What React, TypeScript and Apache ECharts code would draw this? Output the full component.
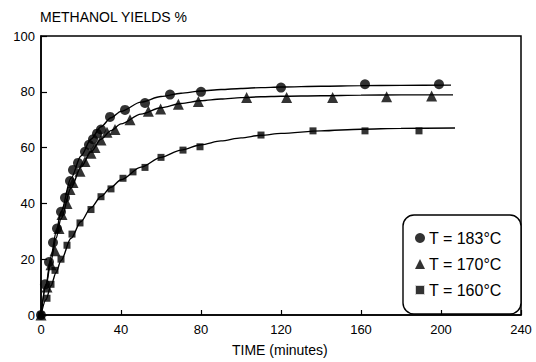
import React, { useEffect, useRef } from "react";
import * as echarts from "echarts";

const FONT = "'Liberation Sans', Arial, Helvetica, sans-serif";

const seriesNames = ["T = 183°C", "T = 170°C", "T = 160°C"];
const xTicks = [0, 40, 80, 120, 160, 200, 240];
const yTicks = [0, 20, 40, 60, 80, 100];

// measured points [time (min), yield %]
const pts183: number[][] = [
  [0, 0], [2, 11], [4, 19], [6, 26], [8, 31], [10, 37], [12, 42], [14.5, 48], [16, 52],
  [18.5, 54.5], [22, 58.5], [24, 61], [26, 63], [28, 65], [30, 66.5], [34.5, 71],
  [42, 73.5], [52, 76], [64.5, 79], [80, 80], [120, 81.5], [162, 82.7], [199, 82.7],
];
const pts170: number[][] = [
  [0, 0], [3, 10], [5, 18], [7, 23], [9, 31], [10.5, 36], [13, 40], [14.5, 45], [16, 47.5],
  [19.5, 51.5], [22, 55], [25, 58], [27, 60], [30, 62.7], [33, 65.5], [37, 66.5],
  [44.5, 70], [53.7, 73], [59.8, 73.8], [68.7, 75.5], [78.7, 76.5], [102.8, 78],
  [122.8, 78], [145.8, 78], [172.8, 78.2], [195.3, 78.5],
];
const pts160: number[][] = [
  [0, 0], [3, 6], [5, 11], [7, 16], [10, 20], [13, 25], [15.5, 29], [19.5, 33], [25, 37.8],
  [30, 42.4], [35, 45.2], [41, 49], [46, 51.3], [52, 52.9], [60, 56.5], [71, 59.1],
  [79.5, 60.3], [110, 64.5], [136, 66], [162, 66], [189, 66],
];

// fitted curves
const fit183: number[][] = [
  [0, 0], [2.5, 11], [5, 21], [7.5, 29.5], [10, 37], [15, 49], [20, 57], [25, 63],
  [30, 67.5], [35, 70.7], [40, 73], [50, 76.3], [60, 78.3], [70, 79.5], [80, 80.3],
  [90, 80.8], [100, 81.2], [110, 81.5], [120, 81.7], [140, 82], [160, 82.2], [180, 82.3], [205, 82.4],
];
const fit170: number[][] = [
  [0, 0], [2.5, 10.5], [5, 19.5], [7.5, 27.5], [10, 34.5], [15, 45.5], [20, 53], [25, 58.5],
  [30, 63], [35, 66.1], [40, 68.5], [50, 72], [60, 74.3], [70, 75.8], [80, 76.8],
  [90, 77.4], [100, 77.9], [110, 78.2], [120, 78.4], [140, 78.6], [160, 78.8], [180, 78.9], [206, 78.9],
];
const fit160: number[][] = [
  [0, 0], [2.5, 5.5], [5, 10.5], [7.5, 15.2], [10, 19.5], [15, 27.5], [20, 33.5], [25, 38.5],
  [30, 42.5], [35, 45.8], [40, 48.5], [50, 53], [60, 56.5], [70, 59.1], [80, 61],
  [90, 62.4], [100, 63.5], [110, 64.4], [120, 65.1], [140, 66], [160, 66.6], [180, 66.9], [207, 67],
];

const symbols = ["circle", "triangle", "rect"];
const symbolSizes = [10, 11, 7];

export default function App() {
  const ref = useRef<HTMLDivElement>(null);
  useEffect(() => {
    if (!ref.current) return;
    const chart = echarts.init(ref.current, null, { renderer: "svg" });
    const pts = [pts183, pts170, pts160];
    const fits = [fit183, fit170, fit160];
    const series: any[] = [];
    fits.forEach((f, i) => {
      series.push({
        name: "fit " + seriesNames[i],
        type: "line",
        data: f,
        smooth: 0.3,
        smoothMonotone: "x",
        showSymbol: false,
        symbol: "none",
        lineStyle: { color: "#000", width: 1.4 },
        silent: true,
        z: 2,
      });
    });
    pts.forEach((p, i) => {
      series.push({
        name: seriesNames[i],
        type: "scatter",
        data: p,
        symbol: symbols[i],
        symbolSize: symbolSizes[i],
        itemStyle: { color: "#000" },
        z: 3,
      });
    });
    chart.setOption({
      animation: false,
      textStyle: { fontFamily: FONT, color: "#000" },
      grid: {
        left: 41, right: 15, top: 36, bottom: 47,
        show: true, borderColor: "#000", borderWidth: 1.5,
      },
      xAxis: {
        type: "value",
        min: xTicks[0],
        max: xTicks[xTicks.length - 1],
        interval: 40,
        axisLine: { show: true, lineStyle: { color: "#000", width: 1.5 } },
        axisTick: { show: true, inside: true, length: 5, lineStyle: { color: "#000", width: 1.2 } },
        splitLine: { show: false },
        axisLabel: { color: "#000", fontSize: 13, fontFamily: FONT, margin: 8 },
      },
      yAxis: {
        type: "value",
        min: yTicks[0],
        max: yTicks[yTicks.length - 1],
        interval: 20,
        axisLine: { show: true, lineStyle: { color: "#000", width: 1.5 } },
        axisTick: { show: true, inside: true, length: 6, lineStyle: { color: "#000", width: 1.2 } },
        splitLine: { show: false },
        axisLabel: { color: "#000", fontSize: 13, fontFamily: FONT, margin: 6 },
      },
      legend: {
        orient: "vertical",
        left: 414,
        top: 230,
        itemWidth: 10,
        itemHeight: 10,
        itemGap: 10,
        padding: 0,
        textStyle: { fontSize: 16, fontFamily: FONT, color: "#000", padding: [0, 0, 0, -1] },
        data: [
          { name: seriesNames[0], icon: "circle" },
          { name: seriesNames[1], icon: "triangle" },
          { name: seriesNames[2], icon: "rect", itemStyle: { borderColor: "#fff", borderWidth: 2 } },
        ],
      },
      graphic: [
        {
          type: "rect",
          shape: { x: 403, y: 215, width: 118, height: 99, r: 11 },
          style: { fill: "#fff", stroke: "#000", lineWidth: 1.4 },
          z: 0,
          zlevel: 0,
        },
        {
          type: "text",
          left: 40,
          top: 10,
          style: { text: "METHANOL YIELDS %", fontSize: 14, fontFamily: FONT, fill: "#000" },
        },
        {
          type: "text",
          left: 232,
          top: 343,
          style: { text: "TIME (minutes)", fontSize: 14, fontFamily: FONT, fill: "#000" },
        },
      ],
      series,
    });
    return () => chart.dispose();
  }, []);
  return (
    <div
      ref={ref}
      style={{ position: "absolute", left: 0, top: 0, width: 536, height: 362, background: "#fff" }}
    />
  );
}
